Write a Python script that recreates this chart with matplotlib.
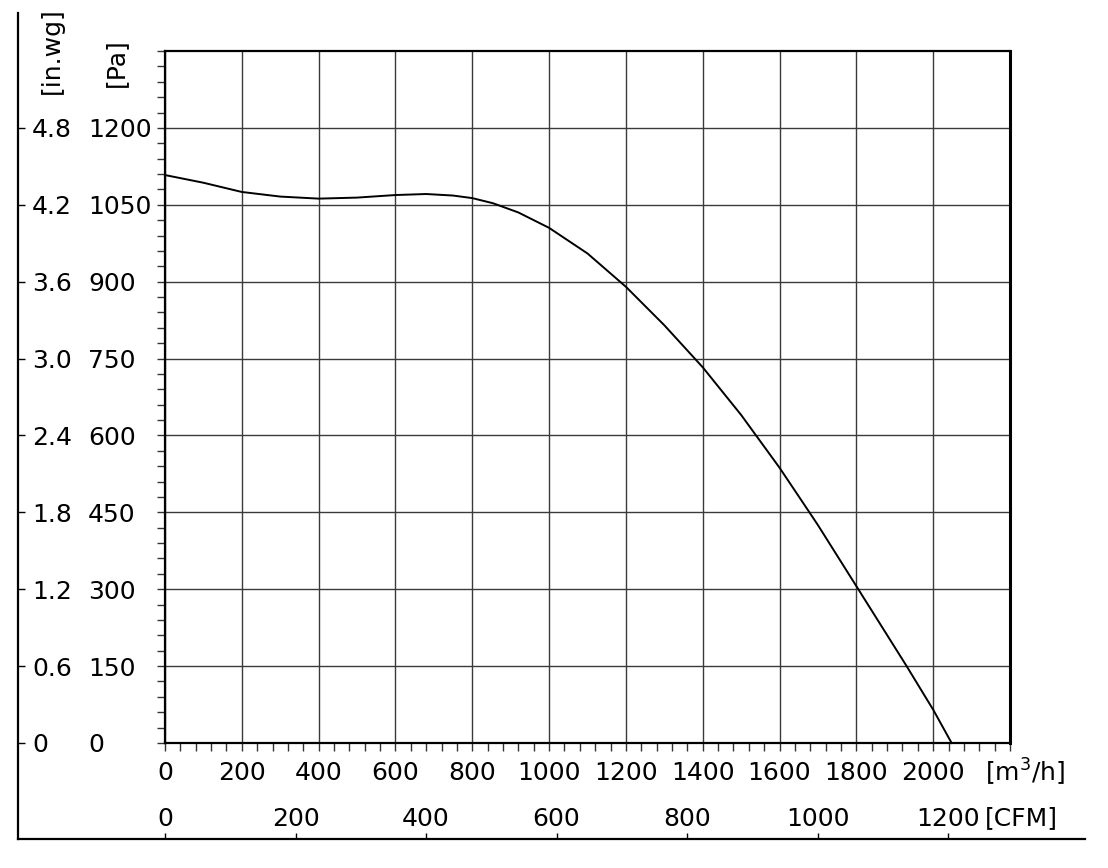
import matplotlib.pyplot as plt
import numpy as np

# Fan curve
flow_m3h = [0, 100, 200, 300, 400, 500, 600, 680, 750, 800, 854, 920, 1000,
            1100, 1200, 1300, 1400, 1500, 1600, 1676, 1700, 1800, 1930, 2000, 2048]
pressure_pa = [1108, 1093, 1075, 1066, 1062, 1064, 1069, 1071, 1068, 1063, 1053, 1035, 1005,
               955, 890, 815, 733, 640, 537, 452, 425, 306, 151, 65, 0]

pa_ticks = [0, 150, 300, 450, 600, 750, 900, 1050, 1200]
inwg_labels = ["0", "0.6", "1.2", "1.8", "2.4", "3.0", "3.6", "4.2", "4.8"]
m3h_ticks = [0, 200, 400, 600, 800, 1000, 1200, 1400, 1600, 1800, 2000, 2200]
m3h_labels = ["0", "200", "400", "600", "800", "1000", "1200", "1400", "1600", "1800", "2000", ""]
cfm_ticks = [0, 200, 400, 600, 800, 1000, 1200]
CFM_TO_M3H = 1.699

X_MAX = 2200
Y_MAX = 1350
FS = 18

W, H = 1108, 868
fig = plt.figure(figsize=(W / 100, H / 100), dpi=100)

# main plot area (pixel positions of the reference)
left, right, top, bottom = 165, 1010, 51, 743
main_pos = [left / W, 1 - bottom / H, (right - left) / W, (bottom - top) / H]
# outer frame carrying the in.wg and CFM scales
o_left, o_right, o_top, o_bottom = 18, 1085, 13, 839
outer_pos = [o_left / W, 1 - o_bottom / H, (o_right - o_left) / W, (o_bottom - o_top) / H]

outer = fig.add_axes(outer_pos)
ax = fig.add_axes(main_pos)

# ---- main axes
ax.plot(flow_m3h, pressure_pa, color="black", lw=1.4, zorder=3, clip_on=False,
        solid_joinstyle="round")
ax.set_xlim(0, X_MAX)
ax.set_ylim(0, Y_MAX)
ax.set_xticks(m3h_ticks)
ax.set_xticklabels(m3h_labels)
ax.set_xticks(np.arange(0, X_MAX + 1, 40), minor=True)
ax.set_yticks(pa_ticks)
ax.set_yticklabels([str(v) for v in pa_ticks])
ax.set_yticks(np.arange(0, Y_MAX + 1, 30), minor=True)
ax.grid(True, which="major", color="#3a3a3a", lw=1.0)
ax.tick_params(axis="both", which="both", direction="out", length=6, width=1.0,
               color="#333333", labelsize=FS)
ax.tick_params(axis="x", which="major", pad=6.9)
ax.tick_params(axis="y", which="major", pad=49.4)
for t in ax.get_yticklabels():
    t.set_ha("left")
for s in ax.spines.values():
    s.set_color("black")
    s.set_linewidth(1.6)
ax.spines["right"].set_linewidth(2.2)

# ---- outer axes sharing the same scales
pos_m = ax.get_position()
pos_o = outer.get_position()
outer.set_ylim((pos_o.y0 - pos_m.y0) / pos_m.height * Y_MAX,
               (pos_o.y1 - pos_m.y0) / pos_m.height * Y_MAX)
outer.set_xlim((pos_o.x0 - pos_m.x0) / pos_m.width * X_MAX,
               (pos_o.x1 - pos_m.x0) / pos_m.width * X_MAX)
outer.set_facecolor("none")
outer.spines["top"].set_visible(False)
outer.spines["right"].set_visible(False)
outer.spines["left"].set_linewidth(1.6)
outer.spines["bottom"].set_linewidth(1.6)
outer.set_yticks(pa_ticks)
outer.set_yticklabels(inwg_labels)
outer.set_xticks([c * CFM_TO_M3H for c in cfm_ticks])
outer.set_xticklabels([str(c) for c in cfm_ticks])
outer.tick_params(axis="both", direction="in", width=1.0, labelsize=FS)
outer.tick_params(axis="y", length=5, pad=-10)
outer.tick_params(axis="x", length=4.3, pad=-23)
for t in outer.get_yticklabels():
    t.set_ha("left")

# unit labels
fig.text(985 / W, 1 - 772 / H, "[m$^3$/h]", fontsize=FS, ha="left", va="center")
fig.text(985 / W, 1 - 818 / H, "[CFM]", fontsize=FS, ha="left", va="center")
fig.text(52 / W, 1 - 51 / H, "[in.wg]", rotation=90, fontsize=FS, ha="center", va="center")
fig.text(116 / W, 1 - 63 / H, "[Pa]", rotation=90, fontsize=FS, ha="center", va="center")

fig.savefig("out.png", dpi=100)
